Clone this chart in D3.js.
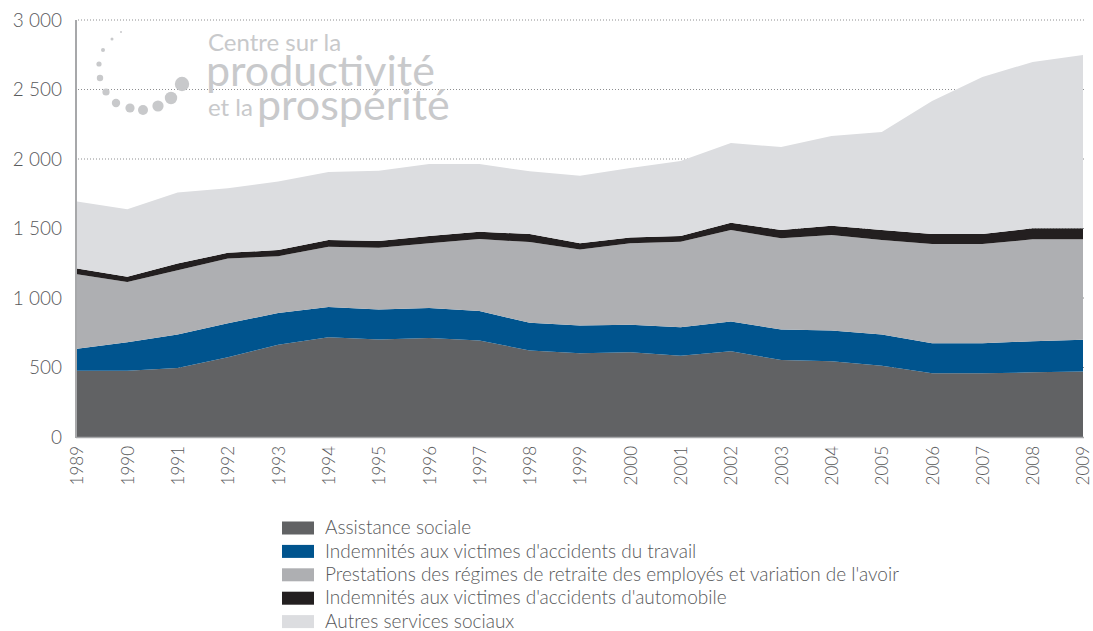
<!DOCTYPE html>
<html>
<head>
<meta charset="utf-8">
<script src="https://cdn.jsdelivr.net/npm/d3@7"></script>
<style>
  body { margin: 0; background: #fff; }
  svg text { font-family: Lato, 'Open Sans', sans-serif; font-weight: 300; fill: #58595b; }
</style>
</head>
<body>
<div id="container"></div>
<script>
const w = 1093,
  h = 631;

// data (millions of dollars)
const years = [1989, 1990, 1991, 1992, 1993, 1994, 1995, 1996, 1997, 1998, 1999,
  2000, 2001, 2002, 2003, 2004, 2005, 2006, 2007, 2008, 2009];
const assistance = [477, 477, 496, 573, 663, 718, 701, 713, 694, 622, 602,
  610, 585, 617, 554, 545, 513, 458, 458, 465, 472];
const travail = [157, 205, 241, 246, 229, 217, 217, 215, 212, 200, 200,
  197, 205, 214, 219, 221, 224, 217, 217, 224, 227];
const retraite = [537, 434, 463, 465, 409, 434, 443, 465, 518, 580, 547,
  586, 615, 658, 656, 687, 680, 713, 713, 733, 723];
const automobile = [41, 36, 48, 41, 44, 48, 49, 53, 53, 58, 44,
  43, 41, 53, 60, 67, 72, 72, 72, 79, 79];
const autres = [482, 487, 511, 465, 494, 489, 506, 518, 487, 451, 487,
  499, 539, 573, 597, 645, 705, 957, 1130, 1197, 1247];

const seriesNames = [
  'Assistance sociale',
  "Indemnités aux victimes d'accidents du travail",
  "Prestations des régimes de retraite des employés et variation de l'avoir",
  "Indemnités aux victimes d'accidents d'automobile",
  'Autres services sociaux'
];
const seriesColors = ['#616264', '#00548e', '#aeafb2', '#231f20', '#dcdde0'];
const yTicks = [0, 500, 1000, 1500, 2000, 2500, 3000];

const keys = ['assistance', 'travail', 'retraite', 'automobile', 'autres'];
const rows = years.map((y, i) => ({
  year: y,
  assistance: assistance[i],
  travail: travail[i],
  retraite: retraite[i],
  automobile: automobile[i],
  autres: autres[i]
}));

const svg = d3.select('#container').append('svg').attr('width', w).attr('height', h);

const xScale = d3.scaleLinear().domain([1989, 2009]).range([77, 1083]);
const yScale = d3.scaleLinear().domain([0, 3000]).range([437, 20]);

// gridlines
svg
  .append('g')
  .selectAll('line')
  .data(yTicks.filter((d) => d > 0))
  .enter()
  .append('line')
  .attr('x1', 78)
  .attr('x2', 1085)
  .attr('y1', (d) => yScale(d))
  .attr('y2', (d) => yScale(d))
  .attr('stroke', '#8d8e90')
  .attr('stroke-width', 1)
  .attr('stroke-dasharray', '1,2');

// stacked areas
const stack = d3.stack().keys(keys);
const layers = stack(rows);
const area = d3
  .area()
  .x((d) => xScale(d.data.year))
  .y0((d) => yScale(d[0]))
  .y1((d) => yScale(d[1]));

svg
  .append('g')
  .selectAll('path')
  .data(layers)
  .enter()
  .append('path')
  .attr('d', area)
  .attr('fill', (d, i) => seriesColors[i]);

// watermark logo
const logoDots = [
  [121, 32, 1], [112, 39, 1.5], [103, 50, 2], [99, 64, 2.6], [100, 78, 3.2],
  [106, 92, 3.6], [116, 103, 4.2], [130, 108, 4.6], [143, 110, 5],
  [158, 106, 5.6], [171, 98, 6.2], [182, 84, 7.2]
];
const logo = svg.append('g').attr('fill', '#c8c9cb');
logo
  .selectAll('circle')
  .data(logoDots)
  .enter()
  .append('circle')
  .attr('cx', (d) => d[0])
  .attr('cy', (d) => d[1])
  .attr('r', (d) => d[2]);
logo.append('text').text('Centre sur la').attr('x', 208).attr('y', 51)
  .style('font-size', '24px').style('fill', '#c8c9cb').style('font-weight', 400);
logo.append('text').text('productivité').attr('x', 206).attr('y', 86)
  .style('font-size', '43px').style('fill', '#c8c9cb').style('font-weight', 400);
logo.append('text').text('et la').attr('x', 208).attr('y', 116)
  .style('font-size', '24px').style('fill', '#c8c9cb').style('font-weight', 400);
logo.append('text').text('prospérité').attr('x', 257).attr('y', 120)
  .style('font-size', '43px').style('fill', '#c8c9cb').style('font-weight', 400);

// axes
const locale = d3.formatLocale({ decimal: ',', thousands: '\u00a0', grouping: [3], currency: ['', ' $'] });
const yAxis = d3.axisLeft(yScale).tickValues(yTicks).tickSize(0).tickPadding(14)
  .tickFormat(locale.format(','));
const yG = svg.append('g').attr('transform', 'translate(76, 0)').call(yAxis);
yG.select('.domain').remove();
yG.selectAll('text').style('font-size', '19px').style('font-family', 'Lato, sans-serif').attr('fill', '#58595b');

svg
  .append('line')
  .attr('x1', 76)
  .attr('x2', 76)
  .attr('y1', yScale(3000))
  .attr('y2', yScale(0) + 1)
  .attr('stroke', '#a7a8aa')
  .attr('stroke-width', 2);
svg
  .append('line')
  .attr('x1', 76)
  .attr('x2', 1084)
  .attr('y1', yScale(0) + 0.5)
  .attr('y2', yScale(0) + 0.5)
  .attr('stroke', '#a7a8aa')
  .attr('stroke-width', 1.5);

const xAxis = d3.axisBottom(xScale).tickValues(years).tickSize(0).tickFormat(d3.format('d'));
const xG = svg.append('g').attr('transform', 'translate(0, 437)').call(xAxis);
xG.select('.domain').remove();
xG.selectAll('text')
  .attr('transform', 'rotate(-90)')
  .attr('x', -9)
  .attr('y', 0)
  .attr('dy', '0.35em')
  .style('text-anchor', 'end')
  .style('font-size', '17px')
  .style('font-family', 'Lato, sans-serif')
  .attr('fill', '#58595b');

// legend
const legend = svg
  .append('g')
  .selectAll('g')
  .data(seriesNames)
  .enter()
  .append('g')
  .attr('transform', (d, i) => 'translate(282, ' + (528 + i * 23.4) + ')');
legend
  .append('rect')
  .attr('x', 0)
  .attr('y', -6.5)
  .attr('width', 32)
  .attr('height', 13)
  .attr('fill', (d, i) => seriesColors[i]);
legend
  .append('text')
  .text((d) => d)
  .attr('x', 43)
  .attr('y', 0)
  .attr('dy', '0.33em')
  .style('font-size', '19px');
</script>
</body>
</html>
